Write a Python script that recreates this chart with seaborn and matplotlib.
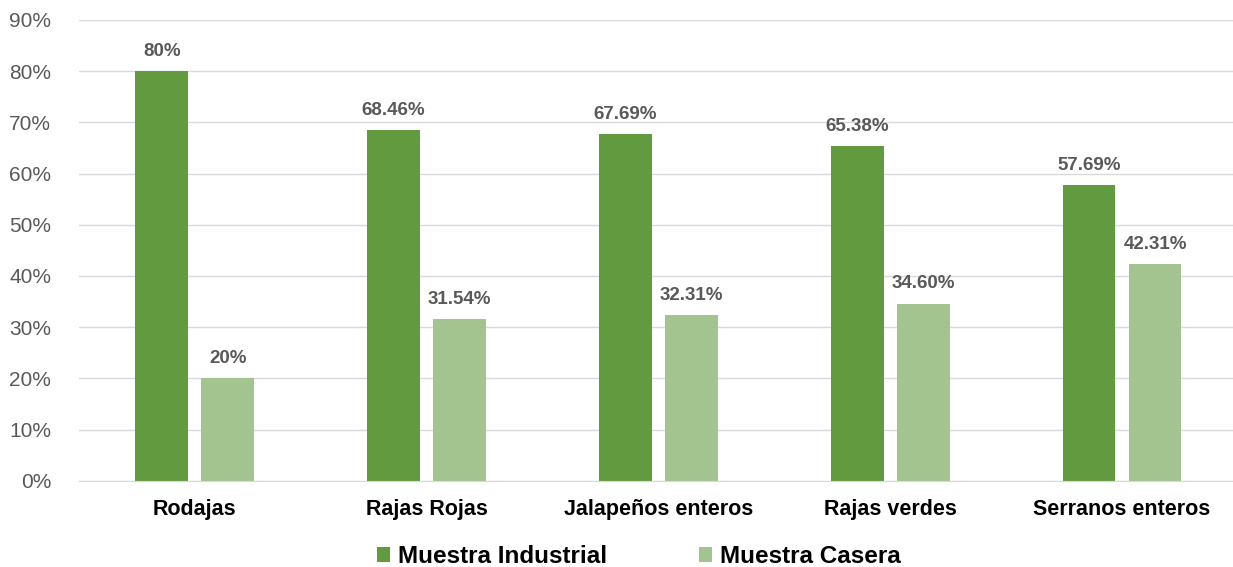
import pandas as pd
import matplotlib.pyplot as plt
import seaborn as sns

categorias = ['Rodajas', 'Rajas Rojas', 'Jalapeños enteros', 'Rajas verdes', 'Serranos enteros']
industrial = [80, 68.46, 67.69, 65.38, 57.69]
casera = [20, 31.54, 32.31, 34.60, 42.31]
etiq_industrial = ['80%', '68.46%', '67.69%', '65.38%', '57.69%']
etiq_casera = ['20%', '31.54%', '32.31%', '34.60%', '42.31%']
series = ['Muestra Industrial', 'Muestra Casera']

sns.set_style('white')
plt.rcParams['font.family'] = ['Liberation Sans', 'DejaVu Sans']

data = pd.DataFrame({
    'cat': categorias * 2,
    'serie': [series[0]] * 5 + [series[1]] * 5,
    'valor': industrial + casera,
})

fig = plt.figure(figsize=(12.33, 5.67), dpi=100)
ax = fig.add_axes([0.064, 0.152, 0.94, 0.813])
sns.barplot(data=data, x='cat', y='valor', hue='serie', palette=['#629B3F', '#A3C48F'],
            width=0.57, gap=0.2, ax=ax, legend=True, saturation=1, linewidth=0)

for cont, labs in zip(ax.containers, [etiq_industrial, etiq_casera]):
    ax.bar_label(cont, labels=labs, padding=8, fontsize=13.5, fontweight='bold', color='#595959')

ax.set_ylim(0, 90)
ax.set_yticks(range(0, 91, 10))
ax.set_yticklabels([f'{v}%' for v in range(0, 91, 10)], fontsize=15, color='#595959')
ax.yaxis.grid(True, color='#D9D9D9', linewidth=1)
ax.set_axisbelow(True)
ax.tick_params(axis='both', length=0)
ax.tick_params(axis='y', pad=20)
ax.tick_params(axis='x', pad=13)
for lab in ax.get_xticklabels():
    lab.set_fontsize(15.5)
    lab.set_fontweight('bold')
    lab.set_color('black')
ax.set_xlabel('')
ax.set_ylabel('')
for s in ['top', 'right', 'left']:
    ax.spines[s].set_visible(False)
ax.spines['bottom'].set_color('#D9D9D9')

handles, labels = ax.get_legend_handles_labels()
ax.get_legend().remove()
fig.legend(handles, labels, loc='center', bbox_to_anchor=(0.518, 0.018), ncol=2, frameon=False,
           prop={'size': 17.5, 'weight': 'bold'}, handlelength=0.55, handleheight=0.55,
           handletextpad=0.3, columnspacing=3.8, labelcolor='black')

fig.savefig('out.png', dpi=100)
